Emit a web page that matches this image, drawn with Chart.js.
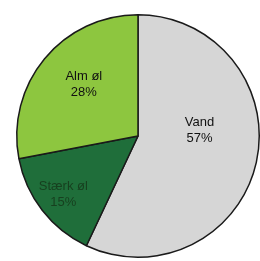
<!DOCTYPE html>
<html>
<head>
<meta charset="utf-8">
<script src="https://cdn.jsdelivr.net/npm/chart.js@4/dist/chart.umd.min.js"></script>
<style>
  html, body { margin: 0; padding: 0; background: #fff; }
  #wrap { width: 260px; height: 261px; }
</style>
</head>
<body>
<div id="wrap"><canvas id="pieChart"></canvas></div>
<script>
const labels = ["Vand", "Stærk øl", "Alm øl"];
const shares = [57, 15, 28];
const sliceColors = ["#d6d6d6", "#1f6e3a", "#8dc63f"];
const labelColors = ["#111", "#17401f", "#111"];
// how far out along the slice middle the label sits, plus a small nudge
const labelFrac = [0.52, 0.78, 0.58];
const labelNudgeY = [-19, 0, -7];

const sliceLabels = {
  id: "sliceLabels",
  afterDatasetsDraw(chart) {
    const ctx = chart.ctx;
    const meta = chart.getDatasetMeta(0);
    meta.data.forEach((arc, i) => {
      const mid = (arc.startAngle + arc.endAngle) / 2;
      const r = arc.outerRadius * labelFrac[i];
      const x = arc.x + Math.cos(mid) * r;
      const y = arc.y + Math.sin(mid) * r + labelNudgeY[i];
      ctx.save();
      ctx.fillStyle = labelColors[i];
      ctx.font = "13px 'Liberation Sans', Arial, sans-serif";
      ctx.textAlign = "center";
      ctx.textBaseline = "middle";
      ctx.fillText(labels[i], x, y - 8);
      ctx.fillText(shares[i] + "%", x, y + 8);
      ctx.restore();
    });
  }
};

const pieCtx = document.getElementById("pieChart").getContext("2d");
new Chart(pieCtx, {
  type: "pie",
  data: {
    labels: labels,
    datasets: [{
      data: shares,
      backgroundColor: sliceColors,
      borderColor: "#1a1a1a",
      borderWidth: 1.5
    }]
  },
  options: {
    responsive: true,
    maintainAspectRatio: false,
    animation: false,
    layout: { padding: { left: 16, right: 0, top: 13, bottom: 2 } },
    plugins: {
      legend: { display: false },
      tooltip: { enabled: false }
    }
  },
  plugins: [sliceLabels]
});
</script>
</body>
</html>
